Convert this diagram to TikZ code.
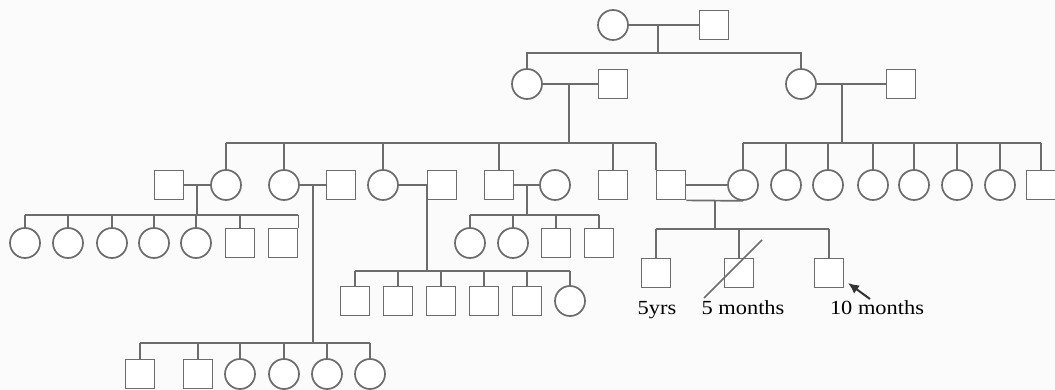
\documentclass[tikz,border=0pt]{standalone}
\usepackage{fontspec}
\setmainfont{Liberation Serif}
\usetikzlibrary{calc,arrows.meta}
\definecolor{lc}{RGB}{108,108,108}
\definecolor{bg}{RGB}{251,251,251}
\tikzset{
  male/.style={draw=lc, line width=1.7pt, rectangle, minimum size=29pt, inner sep=0pt, fill=white},
  female/.style={draw=lc, line width=1.7pt, circle, minimum size=30pt, inner sep=0pt, fill=white},
  ln/.style={draw=lc, line width=1.7pt},
  lbl/.style={font=\fontsize{20pt}{22pt}\selectfont, text=black, anchor=base, inner sep=0pt},
}
\begin{document}
\begin{tikzpicture}[x=1pt,y=-1pt]
\fill[bg] (0,0) rectangle (1055,390);
\useasboundingbox (0,0) rectangle (1055,390);

% Generation I
\node[female] (i1) at (613,25) {};
\node[male]   (i2) at (714,25) {};
\coordinate (mI) at (658,25);
\coordinate (sI) at (658,53);

% Generation II
\node[female] (ii1) at (527,84) {};
\node[male]   (ii2) at (613,84) {};
\node[female] (ii3) at (801,84) {};
\node[male]   (ii4) at (901,84) {};
\coordinate (mII1) at (569,84);
\coordinate (mII2) at (842,84);
\coordinate (sIIL) at (569,143);
\coordinate (sIIR) at (842,143);

% Generation III
\foreach \n/\x in {iii1/169,iii4/341,iii6/442,iii7/499,iii9/613,iii10/671,iii18/1041}
  \node[male] (\n) at (\x,185) {};
\foreach \n/\x in {iii2/226,iii3/284,iii5/383,iii8/555,iii11/743,iii12/786,iii13/828,iii14/873,iii15/914,iii16/957,iii17/1000}
  \node[female] (\n) at (\x,185) {};

% Generation IV
\foreach \n/\x in {iv1/25,iv2/68,iv3/112,iv4/154,iv5/196}
  \node[female] (\n) at (\x,243) {};
\foreach \n/\x in {iv6/240,iv7/283}
  \node[male] (\n) at (\x,243) {};
\foreach \n/\x in {iv8/470,iv9/513}
  \node[female] (\n) at (\x,243) {};
\foreach \n/\x in {iv10/556,iv11/599}
  \node[male] (\n) at (\x,243) {};
\foreach \n/\x in {iv12/355,iv13/398,iv14/441,iv15/484,iv16/527}
  \node[male] (\n) at (\x,301) {};
\node[female] (iv17) at (570,301) {};
\foreach \n/\x in {iv18/656,iv19/739,iv20/829}
  \node[male] (\n) at (\x,273) {};

% Generation V
\foreach \n/\x in {v1/140,v2/198}
  \node[male] (\n) at (\x,374) {};
\foreach \n/\x in {v3/240,v4/284,v5/327,v6/370}
  \node[female] (\n) at (\x,374) {};

% ---- connectors ----
% I
\draw[ln] (i1.east) -- (i2.west);
\draw[ln] (mI) -- (sI);
\draw[ln] (ii1.north) |- (sI) -| (ii3.north);

% II
\draw[ln] (ii1.east) -- (ii2.west);
\draw[ln] (ii3.east) -- (ii4.west);
\draw[ln] (mII1) -- (sIIL);
\draw[ln] (mII2) -- (sIIR);
\draw[ln] (iii2.north |- sIIL) -- (iii10.north west |- sIIL);
\foreach \n in {iii2,iii3,iii5,iii7,iii9}
  \draw[ln] (\n.north) -- (\n.north |- sIIL);
\draw[ln] (iii10.north west) -- (iii10.north west |- sIIL);
\draw[ln] (iii11.north |- sIIR) -- (iii18.north |- sIIR);
\foreach \n in {iii11,iii12,iii13,iii14,iii15,iii16,iii17,iii18}
  \draw[ln] (\n.north) -- (\n.north |- sIIR);

% III marriages
\draw[ln] (iii1.east) -- (iii2.west);
\draw[ln] (iii3.east) -- (iii4.west);
\draw[ln] (iii5.east) -- (iii6.west);
\draw[ln] (iii7.east) -- (iii8.west);
\draw[ln] (iii10.east) -- (iii11.west);
\draw[ln] (iii10.south east) -- (iii11.south);
\coordinate (m31) at ($(iii1.east)!0.5!(iii2.west)$);
\coordinate (m32) at ($(iii3.east)!0.5!(iii4.west)$);
\coordinate (m33) at (iii6.west);
\coordinate (m34) at ($(iii7.east)!0.5!(iii8.west)$);
\coordinate (m35) at ($(iii10.south east)!0.5!(iii11.south)$);
\coordinate (s31) at ($(m31|-iii1.center)+(0,30)$);
\coordinate (s32) at ($(m32|-iii1.center)+(0,158)$);
\coordinate (s33) at ($(m33)+(0,86)$);
\coordinate (s34) at ($(m34|-iii1.center)+(0,30)$);
\coordinate (s35) at ($(m35|-iii1.center)+(0,44)$);

% IV left
\draw[ln] (m31) -- (s31);
\draw[ln] (iv1.north |- s31) -- (iv7.north east |- s31);
\foreach \n in {iv1,iv2,iv3,iv4,iv5,iv6}
  \draw[ln] (\n.north) -- (\n.north |- s31);
\draw[ln] (iv7.north east) -- (iv7.north east |- s31);

% IV middle (under iii7 x iii8)
\draw[ln] (m34) -- (s34);
\draw[ln] (iv8.north |- s34) -- (iv11.north |- s34);
\foreach \n in {iv8,iv9,iv10,iv11}
  \draw[ln] (\n.north) -- (\n.north |- s34);

% IV (under iii5 x iii6)
\draw[ln] (m33) -- (s33);
\draw[ln] (iv12.north |- s33) -- (iv17.north |- s33);
\foreach \n in {iv12,iv13,iv14,iv15,iv16,iv17}
  \draw[ln] (\n.north) -- (\n.north |- s33);

% IV right (under iii10 = iii11)
\draw[ln] (m35) -- (s35);
\draw[ln] (iv18.north |- s35) -- (iv20.north |- s35);
\foreach \n in {iv18,iv19,iv20}
  \draw[ln] (\n.north) -- (\n.north |- s35);
\draw[ln] ($(iv19)+(-35,25)$) -- ($(iv19)+(23,-33)$);
\draw[draw=black!80, fill=black!80, line width=2pt, -{Latex[length=11pt,width=10pt]}] ($(iv20)+(41,26)$) -- ($(iv20)+(19,10)$);

% V
\draw[ln] (m32) -- (s32);
\draw[ln] (v1.north |- s32) -- (v6.north |- s32);
\foreach \n in {v1,v2,v3,v4,v5,v6}
  \draw[ln] (\n.north) -- (\n.north |- s32);

% labels
\node[lbl] (t1) at (657,314) {\scalebox{1.12}[1]{5yrs}};
\node[lbl] (t2) at (743,314) {\scalebox{1.12}[1]{5 months}};
\node[lbl] (t3) at (877,314) {\scalebox{1.12}[1]{10 months}};
\end{tikzpicture}
\end{document}
